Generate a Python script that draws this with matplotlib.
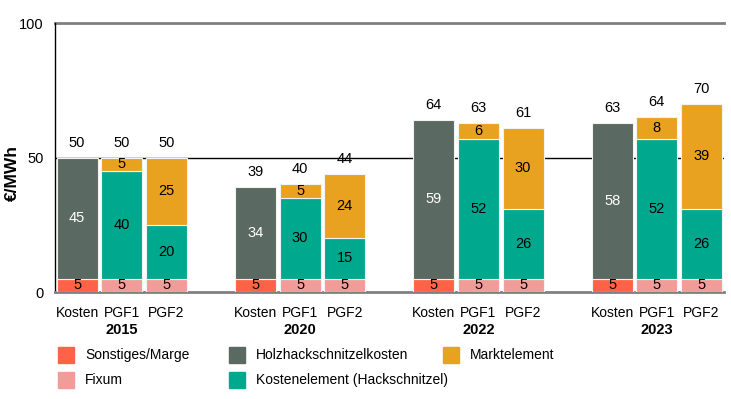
import numpy as np
import matplotlib.pyplot as plt
from matplotlib.patches import Rectangle

plt.rcParams['font.family'] = ['Liberation Sans', 'DejaVu Sans']

years = ['2015', '2020', '2022', '2023']
bars = ['Kosten', 'PGF1', 'PGF2']

# Kosten bars
sonstiges = [5, 5, 5, 5]
holz = [45, 34, 59, 58]
# PGF1 bars
pgf1_fixum = [5, 5, 5, 5]
pgf1_kosten = [40, 30, 52, 52]
pgf1_markt = [5, 5, 6, 8]
# PGF2 bars
pgf2_fixum = [5, 5, 5, 5]
pgf2_kosten = [20, 15, 26, 26]
pgf2_markt = [25, 24, 30, 39]
# totals printed above bars
tot_kosten = [50, 39, 64, 63]
tot_pgf1 = [50, 40, 63, 64]
tot_pgf2 = [50, 44, 61, 70]

c_red = '#FF6347'
c_pink = '#F29C9A'
c_grey = '#5B6963'
c_teal = '#00A88E'
c_orange = '#E9A21F'

fig = plt.figure(figsize=(7.31, 3.99), dpi=100)
ax = fig.add_axes([0.075, 0.268, 0.915, 0.674])

x0 = np.arange(len(years)) * 4.0
w = 0.92
ekw = dict(width=w, edgecolor='#f2f2f2', linewidth=0.8, zorder=3)

def seg(x, bottom, h, color, txtcolor='black'):
  ax.bar(x, h, bottom=bottom, color=color, **ekw)
  ax.text(x, bottom + h / 2, str(h), ha='center', va='center', fontsize=10.5, color=txtcolor, zorder=4)

for i in range(len(years)):
  xk, x1, x2 = x0[i], x0[i] + 1, x0[i] + 2
  seg(xk, 0, sonstiges[i], c_red)
  seg(xk, sonstiges[i], holz[i], c_grey, 'white')
  seg(x1, 0, pgf1_fixum[i], c_pink)
  seg(x1, pgf1_fixum[i], pgf1_kosten[i], c_teal)
  seg(x1, pgf1_fixum[i] + pgf1_kosten[i], pgf1_markt[i], c_orange)
  seg(x2, 0, pgf2_fixum[i], c_pink)
  seg(x2, pgf2_fixum[i], pgf2_kosten[i], c_teal)
  seg(x2, pgf2_fixum[i] + pgf2_kosten[i], pgf2_markt[i], c_orange)
  top_k = sonstiges[i] + holz[i]
  top_1 = pgf1_fixum[i] + pgf1_kosten[i] + pgf1_markt[i]
  top_2 = pgf2_fixum[i] + pgf2_kosten[i] + pgf2_markt[i]
  for xx, top, t in [(xk, top_k, tot_kosten[i]), (x1, top_1, tot_pgf1[i]), (x2, top_2, tot_pgf2[i])]:
    ax.text(xx, top + 3, str(t), ha='center', va='bottom', fontsize=10.5)
  for j, b in enumerate(bars):
    ax.text(x0[i] + j, -5.2, b, ha='center', va='top', fontsize=10)
  ax.text(x0[i] + 1, -11.5, years[i], ha='center', va='top', fontsize=10.5, fontweight='bold')

ax.set_xlim(-0.5, 14.5)
ax.set_ylim(0, 100)
ax.set_yticks([0, 50, 100])
ax.tick_params(axis='y', length=0, labelsize=10.5, pad=8)
ax.set_xticks([])
ax.axhline(50, color='black', linewidth=1, zorder=2)
ax.axhline(100, color='#808080', linewidth=2, zorder=2, clip_on=False)
for s in ['top', 'right']:
  ax.spines[s].set_visible(False)
ax.spines['bottom'].set_color('#808080')
ax.spines['bottom'].set_linewidth(2)
ax.spines['left'].set_linewidth(1)

W, H = 731.0, 399.0
fig.text(12 / W, (H - 173) / H, '€/MWh', rotation=90, ha='center', va='center',
         fontsize=12.5, fontweight='bold')

# legend, laid out by hand (columns overlap slightly in the original)
leg_items = [
  (c_red, 'Sonstiges/Marge', 58, 355),
  (c_pink, 'Fixum', 58, 380),
  (c_grey, 'Holzhackschnitzelkosten', 229, 355),
  (c_teal, 'Kostenelement (Hackschnitzel)', 229, 380),
  (c_orange, 'Marktelement', 443, 355),
]
for col, lab, px, py in leg_items:
  fig.patches.append(Rectangle((px / W, (H - py - 8) / H), 16 / W, 16 / H,
                               color=col, transform=fig.transFigure, figure=fig))
  fig.text((px + 27) / W, (H - py) / H, lab, ha='left', va='center', fontsize=10)

fig.savefig('out.png', dpi=100)
